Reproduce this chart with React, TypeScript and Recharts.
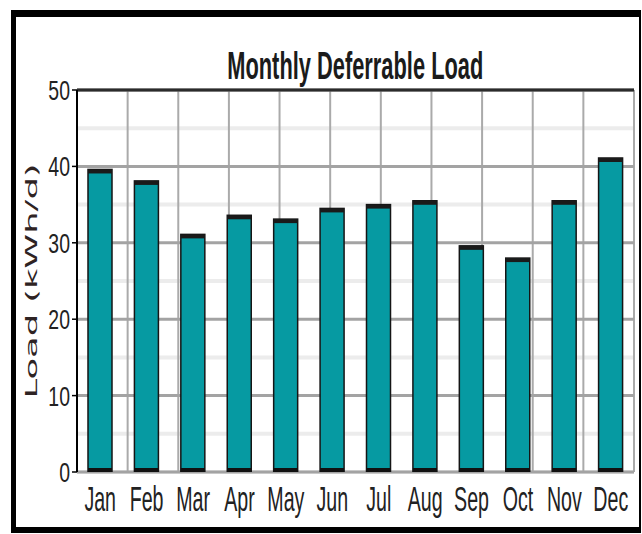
import React from 'react'
import { BarChart, Bar, XAxis, YAxis, CartesianGrid, ReferenceLine } from 'recharts'

const months = ['Jan', 'Feb', 'Mar', 'Apr', 'May', 'Jun', 'Jul', 'Aug', 'Sep', 'Oct', 'Nov', 'Dec']
const loads = [39.6, 38.1, 31.1, 33.6, 33.1, 34.5, 35.0, 35.5, 29.6, 28.0, 35.5, 41.1]
const yTicks = [0, 10, 20, 30, 40, 50]
const minorTicks = [5, 15, 25, 35, 45]
const boundaryTicks = [0, 1, 2, 3, 4, 5, 6, 7, 8, 9, 10, 11, 12]

const data = months.map((m, i) => ({ month: m, load: loads[i] }))

const FONT = '"Liberation Sans", Arial, sans-serif'

function BarShape(props: any) {
    const { x, y, width, height } = props
    if (!height || height <= 0) return null
    return (
        <g>
            <rect x={x} y={y} width={width} height={height} fill="#069aa2" stroke="#151515" strokeWidth={1.5} />
            <rect x={x} y={y} width={width} height={4} fill="#1a1a1a" />
            <rect x={x} y={y + height - 4} width={width} height={4} fill="#111" />
        </g>
    )
}

function YTick(props: any) {
    const { x, y, payload } = props
    return (
        <g transform={`translate(${x},${y})`}>
            <text x={0} y={0} dy={10} textAnchor="end" transform="scale(0.72,1)"
                fontFamily={FONT} fontSize={27} fill="#222">{payload.value}</text>
        </g>
    )
}

function XTick(props: any) {
    const { x, y, payload } = props
    return (
        <g transform={`translate(${x},${y})`}>
            <text x={0} y={0} dy={31} textAnchor="middle" transform="scale(0.56,1)"
                fontFamily={FONT} fontSize={35} fill="#222">{payload.value}</text>
        </g>
    )
}

function YLabel(props: any) {
    const vb = props.viewBox || {}
    const cx = (vb.x ?? 17) + 14
    const cy = (vb.y ?? 90) + (vb.height ?? 382) / 2
    return (
        <text transform={`translate(${cx},${cy}) rotate(-90)`} textAnchor="middle" dominantBaseline="central"
            fontFamily='"DejaVu Sans", Verdana, sans-serif' fontSize={16} fill="#2e2323"
            textLength={235} lengthAdjust="spacingAndGlyphs">Load (kWh/d)</text>
    )
}

export default function App() {
    return (
        <div style={{ position: 'absolute', left: 0, top: 0, width: 642, height: 534, background: '#fff' }}>
            <div style={{
                position: 'absolute', left: 11, top: 10, width: 630, height: 523, boxSizing: 'border-box',
                borderStyle: 'solid', borderColor: '#000', borderWidth: '7px 2px 6px 5px'
            }} />
            <div style={{
                position: 'absolute', left: 0, width: 711, top: 44, textAlign: 'center',
                fontFamily: FONT, fontWeight: 'bold', fontSize: 39, color: '#1b1b1b',
                transform: 'scaleX(0.56)', transformOrigin: '355px 0', whiteSpace: 'nowrap', lineHeight: '44px'
            }}>Monthly Deferrable Load</div>
            <div style={{ position: 'absolute', left: 0, top: 0 }}>
                <BarChart width={642} height={534} data={data} margin={{ top: 90, right: 8, left: 17, bottom: 0 }}>
                    <XAxis xAxisId="grid" type="number" domain={[0, 12]} ticks={boundaryTicks} height={0}
                        tickFormatter={() => ''} axisLine={{ stroke: '#000', strokeWidth: 2 }}
                        tickLine={{ stroke: '#000', strokeWidth: 1.5 }} tickSize={6} allowDataOverflow />
                    <XAxis xAxisId="cat" dataKey="month" height={62} axisLine={false} tickLine={false}
                        tick={<XTick />} interval={0} />
                    <YAxis domain={[0, 50]} ticks={yTicks} width={60} tickSize={5} tickMargin={2}
                        axisLine={{ stroke: '#000', strokeWidth: 2 }} tickLine={{ stroke: '#000', strokeWidth: 1.5 }}
                        tick={<YTick />} label={{ content: <YLabel /> }} allowDataOverflow />
                    <YAxis yAxisId="minor" hide domain={[0, 50]} ticks={minorTicks} allowDataOverflow />
                    <CartesianGrid yAxisId="minor" xAxisId="grid" vertical={false} stroke="#ececec" strokeWidth={4} />
                    <CartesianGrid xAxisId="grid" horizontal={false} stroke="#aaaaaa" strokeWidth={2} />
                    <CartesianGrid xAxisId="grid" vertical={false} stroke="#a3a3a3" strokeWidth={3} />
                    <Bar xAxisId="cat" dataKey="load" barSize={24} shape={<BarShape />} isAnimationActive={false} />
                    <ReferenceLine y={50} stroke="#2b2b2b" strokeWidth={3} />
                    <ReferenceLine xAxisId="grid" x={12} stroke="#3a3a3a" strokeWidth={3} />
                </BarChart>
            </div>
        </div>
    )
}
